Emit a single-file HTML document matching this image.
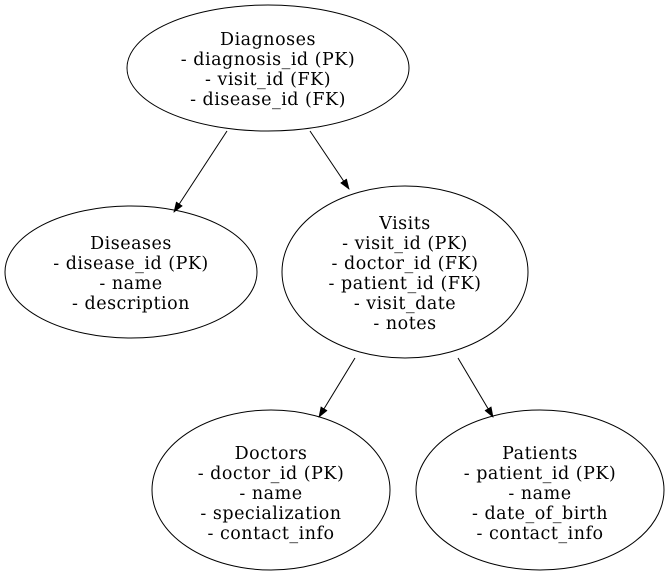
<!DOCTYPE html>
<html><head><meta charset="utf-8"><style>html,body{margin:0;padding:0;background:#fff}
text{font-family:"DejaVu Serif",serif;font-size:17.5px;letter-spacing:0.5px}</style></head>
<body>
<svg width="669" height="576" viewBox="0 0 669 576" xmlns="http://www.w3.org/2000/svg" text-anchor="middle">
<defs><marker id="a" markerWidth="11" markerHeight="11" refX="10" refY="5.5" orient="auto" markerUnits="userSpaceOnUse"><path d="M0,1.5 L11,5.5 L0,9.5 z" fill="#000"/></marker></defs>
<g fill="none" stroke="#000" stroke-width="1">
<ellipse cx="268" cy="68" rx="141" ry="63"/>
<ellipse cx="131" cy="272" rx="126" ry="66"/>
<ellipse cx="405" cy="272" rx="123" ry="86"/>
<ellipse cx="271" cy="490" rx="119" ry="80"/>
<ellipse cx="540" cy="490" rx="124" ry="80"/>
<line x1="227" y1="131" x2="174" y2="212" marker-end="url(#a)"/>
<line x1="310" y1="131" x2="349" y2="189" marker-end="url(#a)"/>
<line x1="355" y1="358" x2="319" y2="417" marker-end="url(#a)"/>
<line x1="458" y1="358" x2="493" y2="417" marker-end="url(#a)"/>
</g>
<g fill="#000">
<text x="268" y="45">Diagnoses</text><text x="268" y="65">- diagnosis_id (PK)</text><text x="268" y="85">- visit_id (FK)</text><text x="268" y="105">- disease_id (FK)</text>
<text x="131" y="249">Diseases</text><text x="131" y="269">- disease_id (PK)</text><text x="131" y="289">- name</text><text x="131" y="309">- description</text>
<text x="405" y="229">Visits</text><text x="405" y="249">- visit_id (PK)</text><text x="405" y="269">- doctor_id (FK)</text><text x="405" y="289">- patient_id (FK)</text><text x="405" y="309">- visit_date</text><text x="405" y="329">- notes</text>
<text x="271" y="459">Doctors</text><text x="271" y="479">- doctor_id (PK)</text><text x="271" y="499">- name</text><text x="271" y="519">- specialization</text><text x="271" y="539">- contact_info</text>
<text x="540" y="459">Patients</text><text x="540" y="479">- patient_id (PK)</text><text x="540" y="499">- name</text><text x="540" y="519">- date_of_birth</text><text x="540" y="539">- contact_info</text>
</g>
</svg>
</body></html>
